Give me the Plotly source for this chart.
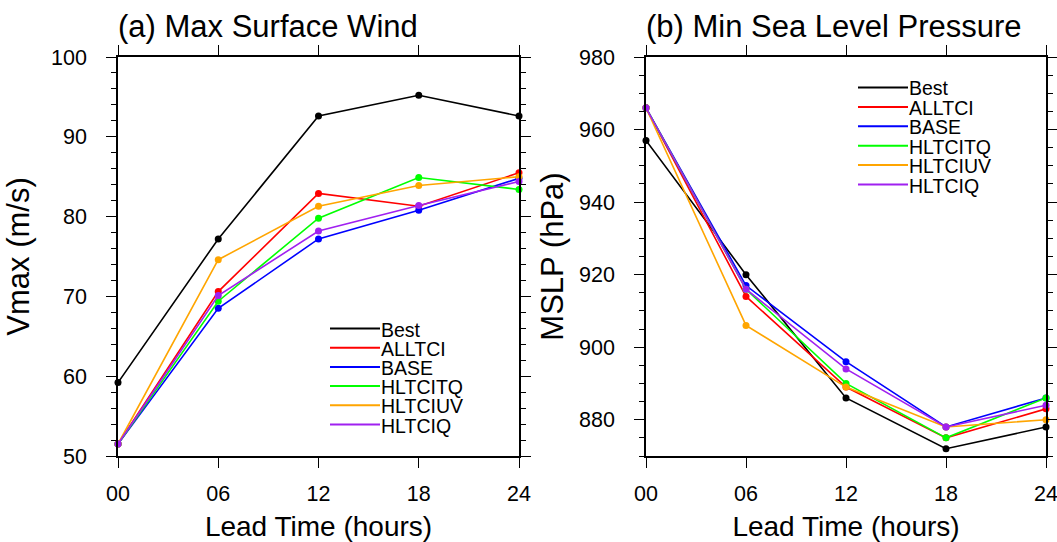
import plotly.graph_objects as go

# ---------------- data ----------------
lead_hours = [0, 6, 12, 18, 24]
lead_labels = ["00", "06", "12", "18", "24"]
series_names = ["Best", "ALLTCI", "BASE", "HLTCITQ", "HLTCIUV", "HLTCIQ"]
series_colors = ["#000000", "#ff0000", "#0000ff", "#00ff00", "#ffa500", "#a020f0"]

vmax_best = [59.2, 77.2, 92.6, 95.2, 92.6]
vmax_alltci = [51.5, 70.6, 82.9, 81.3, 85.5]
vmax_base = [51.5, 68.5, 77.2, 80.8, 84.8]
vmax_hltcitq = [51.5, 69.4, 79.8, 84.9, 83.4]
vmax_hltciuv = [51.5, 74.6, 81.3, 83.9, 85.0]
vmax_hltciq = [51.5, 70.1, 78.2, 81.4, 84.4]

mslp_best = [957, 920, 886, 872, 878]
mslp_alltci = [966, 914, 889, 875, 883]
mslp_base = [966, 917, 896, 878, 886]
mslp_hltcitq = [966, 916, 890, 875, 886]
mslp_hltciuv = [966, 906, 889, 878, 880]
mslp_hltciq = [966, 916, 894, 878, 884]

vmax_ticks = [50, 60, 70, 80, 90, 100]
mslp_ticks = [880, 900, 920, 940, 960, 980]

vmax_all = [vmax_best, vmax_alltci, vmax_base, vmax_hltcitq, vmax_hltciuv, vmax_hltciq]
mslp_all = [mslp_best, mslp_alltci, mslp_base, mslp_hltcitq, mslp_hltciuv, mslp_hltciq]

# ---------------- figure ----------------
W, H = 1057, 542
FONT = "Liberation Sans, Arial, Helvetica, sans-serif"

fig = go.Figure()

for name, color, ys in zip(series_names, series_colors, vmax_all):
    fig.add_trace(go.Scatter(
        x=lead_hours, y=ys, name=name, mode="lines+markers",
        line=dict(color=color, width=1.6), marker=dict(color=color, size=7),
        xaxis="x", yaxis="y", cliponaxis=False, showlegend=False))

for name, color, ys in zip(series_names, series_colors, mslp_all):
    fig.add_trace(go.Scatter(
        x=lead_hours, y=ys, name=name, mode="lines+markers",
        line=dict(color=color, width=1.6), marker=dict(color=color, size=7),
        xaxis="x2", yaxis="y2", cliponaxis=False, showlegend=False))


def px_x(p):
    return p / W


def px_y(p):
    return 1 - p / H


y_dom = [px_y(456), px_y(57)]

common_axis = dict(
    showgrid=False, zeroline=False, showline=True, linecolor="black", linewidth=1.5,
    ticks="outside", ticklen=10, tickwidth=1.3, tickcolor="black", mirror="ticks",
    automargin=False, ticklabeloverflow="allow",
    tickfont=dict(family=FONT, size=21.5, color="black"),
)

xaxis_common = dict(
    common_axis, range=[0, 24], tickmode="array", tickvals=lead_hours, ticktext=lead_labels,
    ticklabelstandoff=7,
    title=dict(text="Lead Time (hours)", font=dict(family=FONT, size=28, color="black"), standoff=15),
)

yaxis_title_font = dict(family=FONT, size=31, color="black")

fig.update_layout(
    template="none",
    width=W, height=H,
    margin=dict(l=0, r=0, t=0, b=0, autoexpand=False),
    paper_bgcolor="white", plot_bgcolor="white",
    showlegend=False,
    xaxis=dict(xaxis_common, domain=[px_x(118), px_x(519)], anchor="y"),
    xaxis2=dict(xaxis_common, domain=[px_x(646), px_x(1046)], anchor="y2"),
    yaxis=dict(common_axis, domain=y_dom, anchor="x", range=[50, 100],
               tickmode="array", tickvals=vmax_ticks, ticklabelstandoff=15,
               minor=dict(dtick=2, ticks="outside", ticklen=5, tickcolor="black", tickwidth=1.2),
               title=dict(text="Vmax (m/s)", font=yaxis_title_font, standoff=12)),
    yaxis2=dict(common_axis, domain=y_dom, anchor="x2", range=[870, 980],
                tickmode="array", tickvals=mslp_ticks, ticklabelstandoff=15,
                minor=dict(dtick=5, ticks="outside", ticklen=5, tickcolor="black", tickwidth=1.2),
                title=dict(text="MSLP (hPa)", font=yaxis_title_font, standoff=6)),
)

annotations = [
    dict(text="(a) Max Surface Wind", x=px_x(116), y=px_y(26), xref="paper", yref="paper",
         xanchor="left", yanchor="middle", showarrow=False,
         font=dict(family=FONT, size=31, color="black")),
    dict(text="(b) Min Sea Level Pressure", x=px_x(644), y=px_y(26), xref="paper", yref="paper",
         xanchor="left", yanchor="middle", showarrow=False,
         font=dict(family=FONT, size=31, color="black")),
]
shapes = []

# manual legends (NCL style: line then label)
legend_specs = [
    dict(x0=330, x1=380, y0=328.5, dy=19.2),
    dict(x0=858, x1=908, y0=87.5, dy=19.4),
]
for spec in legend_specs:
    for i, (name, color) in enumerate(zip(series_names, series_colors)):
        yy = spec["y0"] + i * spec["dy"]
        shapes.append(dict(type="line", xref="paper", yref="paper",
                           x0=px_x(spec["x0"]), x1=px_x(spec["x1"]),
                           y0=px_y(yy), y1=px_y(yy),
                           line=dict(color=color, width=2)))
        annotations.append(dict(text=name, x=px_x(spec["x1"]), y=px_y(yy + 1),
                                xref="paper", yref="paper", xanchor="left", yanchor="middle",
                                showarrow=False, xshift=-1,
                                font=dict(family=FONT, size=19.5, color="black")))

fig.update_layout(annotations=annotations, shapes=shapes)

fig.write_html(
    "out.html",
    config={"displayModeBar": False},
    post_script="document.body.style.margin='0';document.body.style.overflow='hidden';",
)
